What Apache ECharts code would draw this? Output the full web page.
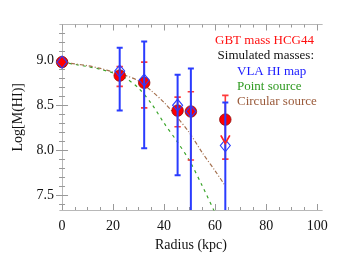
<!DOCTYPE html>
<html><head><meta charset="utf-8">
<script src="https://cdn.jsdelivr.net/npm/echarts@6/dist/echarts.min.js"></script>
<style>html,body{margin:0;padding:0;background:#fff}#c{width:346px;height:260px}</style>
</head><body><div id="c"></div>
<script>
// ---- data ----
const radius    = [0, 22.6, 32.2, 45.3, 50.5, 64.0];
const gbtMass   = [8.98, 8.83, 8.75, 8.44, 8.43, 8.34];
const gbtUpper  = [null, 8.93, 8.98, 8.59, 8.65, 8.61];
const gbtLower  = [null, 8.71, 8.47, 8.26, 7.89, 7.90];
const vlaMass   = [8.98, 8.88, 8.78, 8.50, 8.43, 8.05];
const vlaUpper  = [null, 9.14, 9.21, 8.84, 8.91, 8.53];
const vlaLower  = [null, 8.44, 8.02, 7.72, 7.00, 7.00];
const limitRadius = [64.0];
const limitValue  = [8.12];
const pointRadius = [0, 5, 10, 15, 20, 25, 30, 35, 40, 45, 50, 55, 60];
const pointMass   = [8.98, 8.955, 8.93, 8.90, 8.86, 8.80, 8.69, 8.52, 8.30, 8.10, 7.88, 7.60, 7.30];
const circRadius  = [0, 5, 10, 15, 20, 25, 30, 35, 40, 45, 50, 55, 60, 64];
const circMass    = [8.98, 8.96, 8.94, 8.91, 8.87, 8.83, 8.77, 8.66, 8.53, 8.37, 8.19, 7.97, 7.77, 7.60];
const xMajor = [0, 20, 40, 60, 80, 100];
const xMinor = [5, 10, 15, 25, 30, 35, 45, 50, 55, 65, 70, 75, 85, 90, 95];
const yMajor = [7.5, 8.0, 8.5, 9.0];
const yMinor = [7.4, 7.6, 7.7, 7.8, 7.9, 8.1, 8.2, 8.3, 8.4, 8.6, 8.7, 8.8, 8.9, 9.1, 9.2, 9.3];
const xName = 'Radius (kpc)';
const yName = 'Log[M(HI)]';
const legendLines = ['GBT mass HCG44', 'Simulated masses:', 'VLA HI map', 'Point source', 'Circular source'];

const FONT = '"Liberation Serif", "DejaVu Serif", serif';
const frameColor = '#b8b8b8';
const tickColor = '#999';
const XMIN = -0.8, XMAX = 101.9, YMIN = 7.333, YMAX = 9.399;

function xAx(pos, ticks, len, labels) {
  return {
    type: 'value', position: pos, min: XMIN, max: XMAX,
    axisLine: {show: true, lineStyle: {color: frameColor, width: 1}},
    axisTick: {show: true, inside: true, length: len, customValues: ticks, lineStyle: {color: tickColor}},
    axisLabel: labels ? {show: true, customValues: xMajor, margin: 9, color: '#111',
      fontFamily: FONT, fontSize: 14, formatter: v => String(Math.round(v))} : {show: false},
    splitLine: {show: false},
    name: labels ? xName : '', nameLocation: 'middle', nameGap: 23,
    nameTextStyle: {fontFamily: FONT, fontSize: 14, color: '#111'}
  };
}
function yAx(pos, ticks, len, labels) {
  return {
    type: 'value', position: pos, min: YMIN, max: YMAX,
    axisLine: {show: true, lineStyle: {color: frameColor, width: 1}},
    axisTick: {show: true, inside: true, length: len, customValues: ticks, lineStyle: {color: tickColor}},
    axisLabel: labels ? {show: true, customValues: yMajor, margin: 6, color: '#111',
      fontFamily: FONT, fontSize: 14, formatter: v => v.toFixed(1)} : {show: false},
    splitLine: {show: false},
    name: labels ? yName : '', nameLocation: 'middle', nameGap: 30,
    nameTextStyle: {fontFamily: FONT, fontSize: 14, color: '#111'}
  };
}

function errData(lo, hi) {
  const d = [];
  for (let i = 0; i < radius.length; i++) if (lo[i] != null) d.push([radius[i], lo[i], hi[i]]);
  return d;
}
function errRender(color, width, capW) {
  return function (params, api) {
    const x = api.value(0);
    const lo = Math.max(api.value(1), YMIN - 0.05);
    const hi = api.value(2);
    const pH = api.coord([x, hi]);
    const pL = api.coord([x, lo]);
    const st = {stroke: color, lineWidth: width};
    const ch = [
      {type: 'line', shape: {x1: pH[0], y1: pH[1], x2: pL[0], y2: pL[1]}, style: st},
      {type: 'line', shape: {x1: pH[0] - capW, y1: pH[1], x2: pH[0] + capW, y2: pH[1]}, style: st},
      {type: 'line', shape: {x1: pL[0] - capW, y1: pL[1], x2: pL[0] + capW, y2: pL[1]}, style: st}
    ];
    return {type: 'group', children: ch};
  };
}

const chart = echarts.init(document.getElementById('c'), null, {renderer: 'canvas'});
chart.setOption({
  animation: false,
  backgroundColor: '#fff',
  grid: {left: 60, right: 24, top: 24.5, bottom: 50, containLabel: false},
  xAxis: [xAx('bottom', xMajor, 6, true), xAx('bottom', xMinor, 3, false),
          xAx('top', xMajor, 6, false), xAx('top', xMinor, 3, false)],
  yAxis: [yAx('left', yMajor, 6, true), yAx('left', yMinor, 3, false),
          yAx('right', yMajor, 6, false), yAx('right', yMinor, 3, false)],
  series: [
    {type: 'line', data: pointRadius.map((r, i) => [r, pointMass[i]]), showSymbol: false, smooth: 0.3,
      lineStyle: {color: '#3aa52a', width: 1.2, type: [3, 4]}, z: 2},
    {type: 'line', data: circRadius.map((r, i) => [r, circMass[i]]), showSymbol: false, smooth: 0.3,
      lineStyle: {color: '#a4704e', width: 1.2, type: [4, 2, 1, 2]}, z: 2},
    {type: 'custom', data: errData(gbtLower, gbtUpper), renderItem: errRender('#ff3b3b', 1.6, 3.2), clip: true, z: 3},
    {type: 'scatter', data: radius.map((r, i) => [r, gbtMass[i]]), symbol: 'circle', symbolSize: 11.5,
      itemStyle: {color: '#ff0000', borderColor: '#8a1010', borderWidth: 0.8, opacity: 1}, z: 4},
    {type: 'custom', data: errData(vlaLower, vlaUpper), renderItem: errRender('#2a3cff', 2, 3), clip: true, z: 5},
    {type: 'scatter', data: radius.map((r, i) => [r, vlaMass[i]]), symbol: 'diamond', symbolSize: [10, 12],
      itemStyle: {color: 'rgba(0,0,0,0)', borderColor: '#2a3cff', borderWidth: 1.1, opacity: 1}, z: 6},
    {type: 'scatter', data: limitRadius.map((r, i) => [r, limitValue[i]]), symbol: 'path://M0,0L5,8L10,0',
      symbolSize: [9, 8], itemStyle: {color: 'rgba(0,0,0,0)', borderColor: '#ff2020', borderWidth: 1.6, opacity: 1}, z: 7}
  ],
  graphic: [
    {type: 'text', right: 32, top: 34, style: {text: legendLines[0], fill: '#ff1010', font: '13px ' + FONT}},
    {type: 'text', right: 32, top: 49, style: {text: legendLines[1], fill: '#111', font: '13px ' + FONT}},
    {type: 'text', left: 237, top: 65, style: {text: legendLines[2], fill: '#1a1aff', font: '13px ' + FONT}},
    {type: 'text', left: 237, top: 80, style: {text: legendLines[3], fill: '#2e9a20', font: '13px ' + FONT}},
    {type: 'text', left: 237, top: 95, style: {text: legendLines[4], fill: '#9a5a3a', font: '13px ' + FONT}}
  ]
});
</script></body></html>
